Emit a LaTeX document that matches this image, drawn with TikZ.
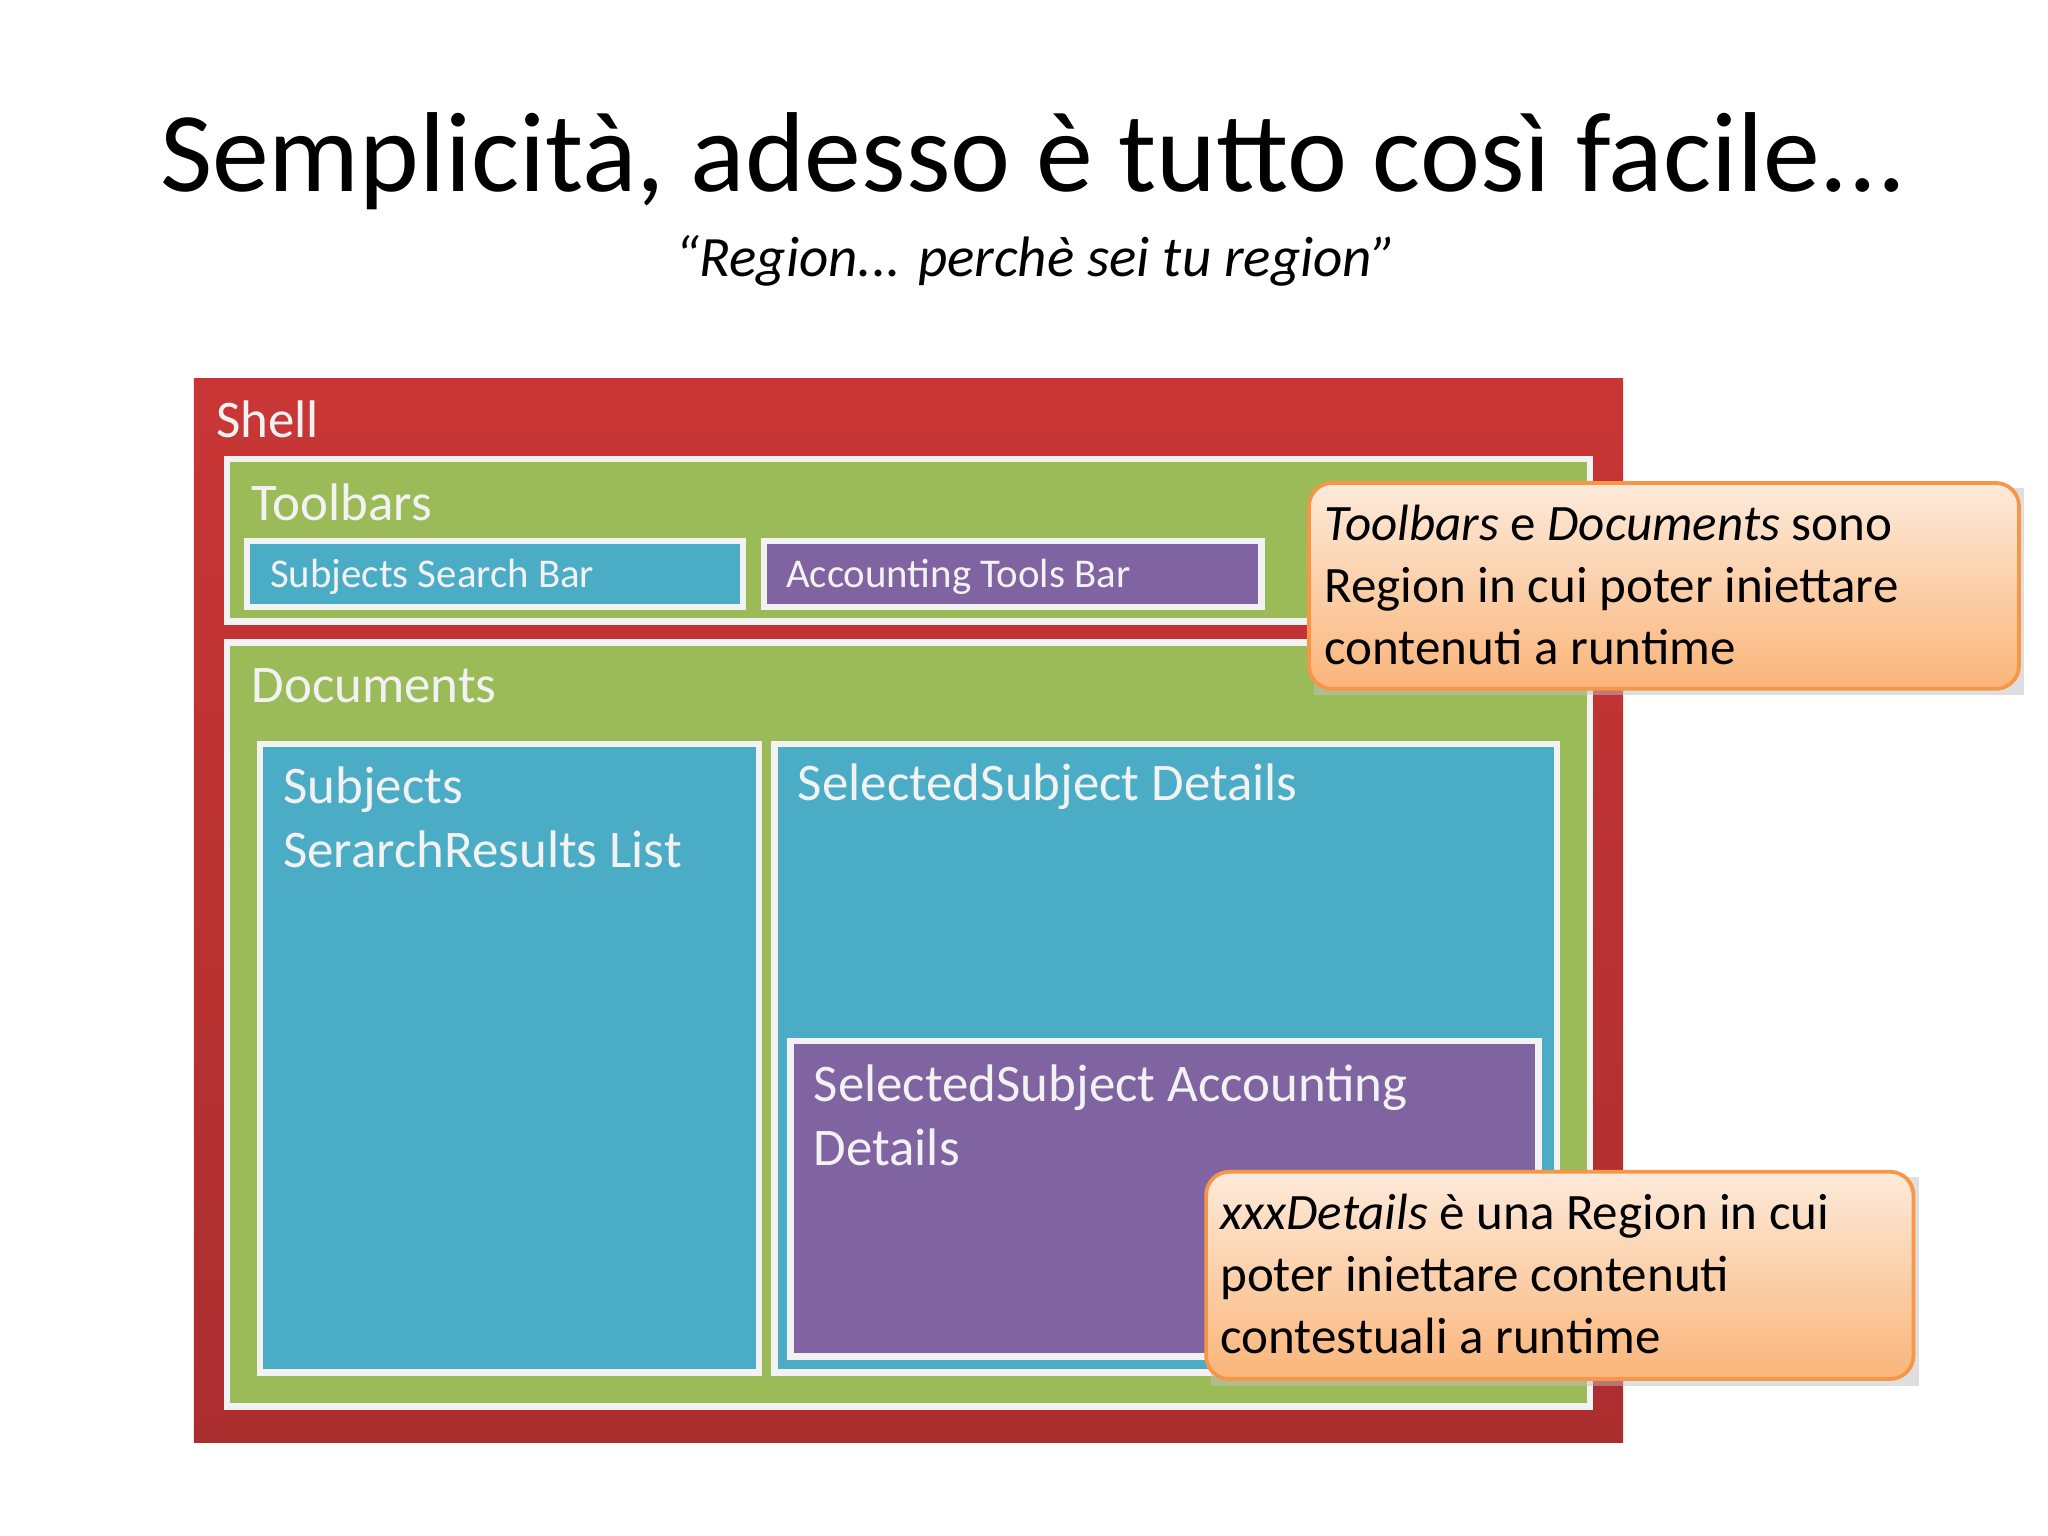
\documentclass[tikz,border=0pt]{standalone}
\usepackage{fontspec}
\setmainfont{Carlito}
\definecolor{shellred}{HTML}{C93636}
\definecolor{rgreen}{HTML}{9BBB59}
\definecolor{rblue}{HTML}{4BACC6}
\definecolor{rpurple}{HTML}{8064A2}
\definecolor{ctop}{HTML}{FDEADA}
\definecolor{cbot}{HTML}{FAB57A}
\definecolor{cborder}{HTML}{F79646}
\definecolor{lbl}{HTML}{F2F2F2}
\begin{document}
\begin{tikzpicture}[x=0.01cm,y=-0.01cm,
  region/.style={draw=white!95!black,line width=1.4pt},
  lab/.style={anchor=west,text=lbl,inner sep=0pt,font=\fontsize{11.4}{13.6}\selectfont},
  slab/.style={anchor=west,text=lbl,inner sep=0pt,font=\fontsize{8.8}{11}\selectfont},
  callout/.style={draw=cborder,line width=0.8pt,rounded corners=5pt,top color=ctop,bottom color=cbot},
  ctext/.style={anchor=north west,align=left,inner sep=0pt,font=\fontsize{11}{13.4}\selectfont}]
\useasboundingbox (0,0) rectangle (1552,1164);
\fill[white] (0,0) rectangle (1552,1164);
\node (title) at (783,122) {\fontsize{24.5}{30}\selectfont Semplicità, adesso è tutto così facile...};
\node (sub) at (785,198) {\fontsize{12.3}{15}\selectfont\itshape “Region... perchè sei tu region”};
\fill[top color=shellred,bottom color=shellred!85!black] (147,287) rectangle (1230,1093);
\node[lab] (shell) at (163,318) {Shell};
\filldraw[region,fill=rgreen] (172,348) rectangle (1205,471);
\node[lab] (tb) at (190,381) {Toolbars};
\filldraw[region,fill=rblue] (187,410) rectangle (563,460);
\node[slab] (ssb) at (204,437) {Subjects Search Bar};
\filldraw[region,fill=rpurple] (579,410) rectangle (956,460);
\node[slab] (atb) at (595,437) {Accounting Tools Bar};
\filldraw[region,fill=rgreen] (172,487) rectangle (1205,1066);
\node[lab] (docs) at (190,520) {Documents};
\filldraw[region,fill=rblue] (197,564) rectangle (575,1040);
\node[lab,anchor=north west,align=left,font=\fontsize{11.4}{13.8}\selectfont] (srl) at (214,580) {Subjects\\SerarchResults List};
\filldraw[region,fill=rblue] (587,564) rectangle (1180,1040);
\node[lab] (ssd) at (604,596) {SelectedSubject Details};
\filldraw[region,fill=rpurple] (599,789) rectangle (1166,1028);
\node[lab,anchor=north west,align=left,font=\fontsize{11.4}{13.8}\selectfont] (ssad) at (616,806) {SelectedSubject Accounting\\Details};
\fill[black!25,opacity=0.5] (996,370) rectangle (1534,527);
\path[callout] (992,366) rectangle (1530,522);
\node[ctext] (c1) at (1003,382) {\textit{Toolbars} e \textit{Documents} sono\\Region in cui poter iniettare\\contenuti a runtime};
\fill[black!25,opacity=0.5] (918,892) rectangle (1454,1050);
\path[callout] (914,888) rectangle (1450,1045);
\node[ctext] (c2) at (924,904) {\textit{xxxDetails} è una Region in cui\\poter iniettare contenuti\\contestuali a runtime};
\end{tikzpicture}
\end{document}
